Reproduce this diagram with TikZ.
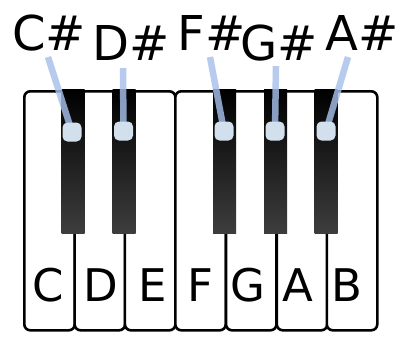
\documentclass[tikz,border=0pt]{standalone}
\usepackage{fontspec}
\setmainfont{DejaVu Sans}
\definecolor{markfill}{HTML}{D2E0EE}
\definecolor{pointblue}{HTML}{A6C0EA}
\pgfdeclarelayer{top}
\pgfsetlayers{main,top}
\begin{document}
\begin{tikzpicture}[x=1pt,y=-1pt,
  whitekey/.style={draw=black, fill=white, line width=2.6pt, rounded corners=6pt,
    minimum width=50.5pt, minimum height=239pt, anchor=north west, inner sep=0pt},
  blackkey/.style={top color=black, bottom color=black!76, draw=none,
    minimum width=23pt, minimum height=144pt, anchor=north, inner sep=0pt},
  notename/.style={font=\fontsize{45}{45}\selectfont, anchor=base, inner sep=0pt},
  sharpname/.style={font=\fontsize{48}{48}\selectfont, anchor=base, inner sep=0pt},
  marker/.style={draw=none, fill=markfill, rounded corners=5pt, minimum size=19pt, inner sep=0pt},
  pointer/.style={line width=6.5pt, draw=pointblue, draw opacity=0.82}]
\useasboundingbox (0,0) rectangle (401,349);
\fill[white] (0,0) rectangle (401,349);

% white keys
\node[whitekey] (kC) at (23,90) {};
\node[whitekey] (kD) at (73.3,90) {};
\node[whitekey] (kE) at (123.6,90) {};
\node[whitekey] (kF) at (174,90) {};
\node[whitekey] (kG) at (224.7,90) {};
\node[whitekey] (kA) at (275.5,90) {};
\node[whitekey] (kB) at (325.5,90) {};

% black keys
\node[blackkey] (kCs) at (73,89) {};
\node[blackkey] (kDs) at (124,89) {};
\node[blackkey] (kFs) at (224.5,89) {};
\node[blackkey] (kGs) at (275.5,89) {};
\node[blackkey] (kAs) at (326,89) {};

% white key names
\node[notename] (nC) at (48,301) {C};
\node[notename] (nD) at (101,301) {D};
\node[notename] (nE) at (153,301) {E};
\node[notename] (nF) at (200,301) {F};
\node[notename] (nG) at (248,301) {G};
\node[notename] (nA) at (298,301) {A};
\node[notename] (nB) at (347,301) {B};

% sharp names
\node[sharpname] (lCs) at (49,50) {C\#};
\node[sharpname] (lDs) at (131,60) {D\#};
\node[sharpname] (lFs) at (211.5,50) {F\#};
\node[sharpname] (lGs) at (279,60) {G\#};
\node[sharpname] (lAs) at (362,50) {A\#};

% markers on the black keys, kept above the pointers
\begin{pgfonlayer}{top}
\node[marker] (dCs) at (72,132) {};
\node[marker] (dDs) at (123.5,131) {};
\node[marker] (dFs) at (224,131) {};
\node[marker] (dGs) at (275,131) {};
\node[marker] (dAs) at (326,131) {};
\end{pgfonlayer}

% pointers from names to markers
\draw[pointer] ([shift={(-1,7)}]lCs.base) -- (dCs.center);
\draw[pointer] ([shift={(-8,8)}]lDs.base) -- (dDs.center);
\draw[pointer] ([shift={(-1.5,7)}]lFs.base) -- (dFs.center);
\draw[pointer] ([shift={(-3,6)}]lGs.base) -- (dGs.center);
\draw[pointer] ([shift={(-14,7)}]lAs.base) -- (dAs.center);
\end{tikzpicture}
\end{document}
